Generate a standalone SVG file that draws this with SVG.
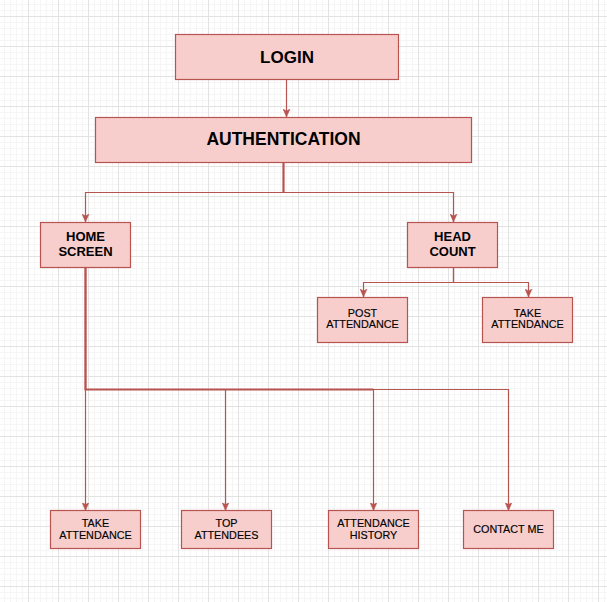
<svg xmlns="http://www.w3.org/2000/svg" width="607" height="602" viewBox="0 0 607 602">
<style>
.box{fill:#f8cecc;stroke:#b85450;stroke-width:1.2}
.edge{fill:none;stroke:#b85450;stroke-width:1.2}
.trunk{fill:none;stroke:#b85450;stroke-width:2}
.t{font-family:"Liberation Sans",Arial,Helvetica,sans-serif;fill:#000;text-anchor:middle}
.big{font-size:17px;font-weight:bold}
.mid{font-size:13px;font-weight:bold}
.sm{font-size:10.8px;stroke:#000;stroke-width:0.15}
</style>
<defs>
<pattern id="minor" x="28" y="16" width="6" height="6" patternUnits="userSpaceOnUse">
<path d="M0.5 0V6M0 0.5H6" stroke="#f5f5f5" stroke-width="1" fill="none"/>
</pattern>
<pattern id="major" x="28" y="16" width="30" height="30" patternUnits="userSpaceOnUse">
<path d="M0.5 0V30M0 0.5H30" stroke="#e2e2e2" stroke-width="1" fill="none"/>
</pattern>
<marker id="arr" viewBox="0 0 8 8" refX="8" refY="4" markerWidth="8" markerHeight="8" markerUnits="userSpaceOnUse" orient="auto">
<path d="M8 4L0 0.5L2 4L0 7.5Z" fill="#b85450" stroke="#b85450" stroke-width="0.5"/>
</marker>
</defs>
<rect width="607" height="602" fill="#ffffff"/>
<rect width="607" height="602" fill="url(#minor)"/>
<rect width="607" height="602" fill="url(#major)"/>

<g id="connectors">
<path class="edge" d="M286.5 80V117" marker-end="url(#arr)"/>
<path class="edge" d="M283.5 162V192.5H85.5V222" marker-end="url(#arr)"/>
<path class="edge" d="M283.5 162V192.5H453.5V222" marker-end="url(#arr)"/>
<path class="edge" d="M453.5 267V282.5H363.5V297" marker-end="url(#arr)"/>
<path class="edge" d="M453.5 267V282.5H528.5V297" marker-end="url(#arr)"/>
<path class="edge" d="M85.5 267V510.5" marker-end="url(#arr)"/>
<path class="edge" d="M85.5 267V389.5H225.5V510.5" marker-end="url(#arr)"/>
<path class="edge" d="M85.5 267V389.5H373.5V510.5" marker-end="url(#arr)"/>
<path class="edge" d="M85.5 267V389.5H508.5V510.5" marker-end="url(#arr)"/>
<path class="trunk" d="M283.5 162V192.5M85.5 267V389.5H373.5"/>
</g>

<g id="login">
<rect class="box" x="175.5" y="34.5" width="223" height="45"/>
<text class="t big" x="287" y="63.3">LOGIN</text>
</g>
<g id="authentication">
<rect class="box" x="95.5" y="117.5" width="376" height="45"/>
<text class="t big" x="283.5" y="145" style="font-size:17.5px">AUTHENTICATION</text>
</g>
<g id="home-screen">
<rect class="box" x="40.5" y="222.5" width="90" height="45"/>
<text class="t mid" x="85.5" y="240.7">HOME</text>
<text class="t mid" x="85.5" y="256">SCREEN</text>
</g>
<g id="head-count">
<rect class="box" x="407.5" y="222.5" width="90" height="45"/>
<text class="t mid" x="452.5" y="240.7">HEAD</text>
<text class="t mid" x="452.5" y="256">COUNT</text>
</g>
<g id="post-attendance">
<rect class="box" x="317.5" y="297.5" width="90" height="45"/>
<text class="t sm" x="362.5" y="316.6">POST</text>
<text class="t sm" x="362.5" y="328.4">ATTENDANCE</text>
</g>
<g id="take-attendance-head">
<rect class="box" x="482.5" y="297.5" width="90" height="45"/>
<text class="t sm" x="527.5" y="316.6">TAKE</text>
<text class="t sm" x="527.5" y="328.4">ATTENDANCE</text>
</g>
<g id="take-attendance-home">
<rect class="box" x="50.5" y="510.5" width="90" height="38"/>
<text class="t sm" x="95.5" y="527.4">TAKE</text>
<text class="t sm" x="95.5" y="539.2">ATTENDANCE</text>
</g>
<g id="top-attendees">
<rect class="box" x="181.5" y="510.5" width="90" height="38"/>
<text class="t sm" x="226.5" y="527.4">TOP</text>
<text class="t sm" x="226.5" y="539.2">ATTENDEES</text>
</g>
<g id="attendance-history">
<rect class="box" x="328.5" y="510.5" width="90" height="38"/>
<text class="t sm" x="373.5" y="527.4">ATTENDANCE</text>
<text class="t sm" x="373.5" y="539.2">HISTORY</text>
</g>
<g id="contact-me">
<rect class="box" x="463.5" y="510.5" width="90" height="38"/>
<text class="t sm" x="508.5" y="533.4">CONTACT ME</text>
</g>
</svg>
